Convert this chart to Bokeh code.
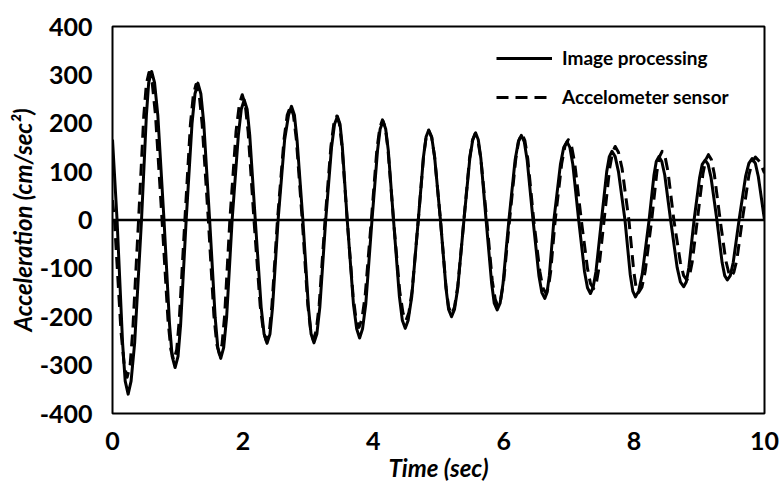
from bokeh.plotting import figure
from bokeh.models import Span, Legend, LegendItem, FixedTicker, Range1d
from bokeh.embed import file_html
from bokeh.resources import INLINE

# Image processing (solid)
solid_t = [0.0, 0.07,
           0.155, 0.195, 0.24, 0.285, 0.34, 0.445,
           0.52, 0.555, 0.60, 0.645, 0.695, 0.79,
           0.875, 0.915, 0.96, 1.005, 1.045, 1.13,
           1.22, 1.265, 1.31, 1.355, 1.40, 1.49,
           1.575, 1.615, 1.66, 1.705, 1.75, 1.835,
           1.93, 1.975, 2.02, 2.065, 2.105, 2.19,
           2.28, 2.325, 2.37, 2.415, 2.455, 2.54,
           2.64, 2.70, 2.745, 2.79, 2.83, 2.92,
           3.005, 3.045, 3.09, 3.135, 3.18, 3.27,
           3.36, 3.405, 3.45, 3.49, 3.525, 3.60,
           3.695, 3.745, 3.79, 3.835, 3.885, 3.98,
           4.065, 4.105, 4.15, 4.19, 4.23, 4.31,
           4.40, 4.445, 4.49, 4.535, 4.59, 4.69,
           4.77, 4.81, 4.85, 4.895, 4.94, 5.03,
           5.115, 5.155, 5.20, 5.245, 5.295, 5.39,
           5.48, 5.525, 5.57, 5.61, 5.65, 5.73,
           5.815, 5.855, 5.90, 5.945, 5.99, 6.08,
           6.175, 6.225, 6.27, 6.315, 6.36, 6.45,
           6.54, 6.585, 6.63, 6.665, 6.70, 6.77,
           6.87, 6.92, 6.97, 7.015, 7.06, 7.15,
           7.24, 7.285, 7.33, 7.37, 7.415, 7.50,
           7.58, 7.62, 7.66, 7.71, 7.76, 7.86,
           7.94, 7.98, 8.02, 8.07, 8.125, 8.23,
           8.305, 8.34, 8.38, 8.425, 8.47, 8.56,
           8.66, 8.71, 8.76, 8.80, 8.84, 8.92,
           9.005, 9.045, 9.09, 9.135, 9.18, 9.27,
           9.35, 9.39, 9.43, 9.475, 9.52, 9.61,
           9.71, 9.76, 9.81, 9.86, 9.905, 10.0]
solid_a = [166, 0,
           -255, -333, -360, -333, -254, 0,
           217, 284, 307, 284, 217, 0,
           -216, -282, -305, -282, -216, 0,
           200, 261, 283, 261, 200, 0,
           -202, -264, -286, -264, -202, 0,
           175, 229, 248, 229, 175, 0,
           -180, -236, -255, -236, -180, 0,
           166, 217, 235, 217, 166, 0,
           -180, -235, -254, -235, -180, 0,
           151, 198, 214, 198, 151, 0,
           -173, -225, -244, -225, -173, 0,
           144, 188, 204, 188, 144, 0,
           -158, -207, -224, -207, -158, 0,
           131, 172, 186, 172, 131, 0,
           -141, -185, -200, -185, -141, 0,
           127, 166, 180, 166, 127, 0,
           -131, -172, -186, -172, -131, 0,
           124, 162, 175, 162, 124, 0,
           -115, -150, -162, -150, -115, 0,
           115, 150, 162, 150, 115, 0,
           -107, -140, -152, -140, -107, 0,
           100, 131, 142, 131, 100, 0,
           -112, -147, -159, -147, -112, 0,
           93, 121, 131, 121, 93, 0,
           -98, -128, -138, -128, -98, 0,
           88, 115, 124, 115, 88, 0,
           -88, -115, -124, -115, -88, 0,
           90, 117, 127, 117, 90, 0]

# Accelerometer sensor (dashed)
dash_t = [0.0, 0.03,
          0.13, 0.18, 0.225, 0.27, 0.31, 0.40,
          0.48, 0.52, 0.56, 0.61, 0.66, 0.76,
          0.85, 0.895, 0.94, 0.985, 1.025, 1.11,
          1.195, 1.24, 1.28, 1.33, 1.375, 1.47,
          1.555, 1.60, 1.64, 1.68, 1.72, 1.80,
          1.895, 1.945, 1.99, 2.035, 2.08, 2.17,
          2.265, 2.315, 2.36, 2.405, 2.445, 2.53,
          2.63, 2.68, 2.73, 2.775, 2.82, 2.91,
          2.995, 3.04, 3.08, 3.125, 3.17, 3.26,
          3.35, 3.395, 3.44, 3.48, 3.52, 3.60,
          3.69, 3.735, 3.78, 3.825, 3.875, 3.97,
          4.055, 4.10, 4.14, 4.185, 4.225, 4.31,
          4.405, 4.455, 4.50, 4.545, 4.595, 4.69,
          4.77, 4.81, 4.85, 4.895, 4.94, 5.03,
          5.115, 5.155, 5.20, 5.245, 5.295, 5.39,
          5.475, 5.52, 5.56, 5.605, 5.65, 5.74,
          5.825, 5.87, 5.91, 5.955, 6.00, 6.09,
          6.185, 6.23, 6.28, 6.325, 6.37, 6.46,
          6.555, 6.60, 6.65, 6.685, 6.72, 6.79,
          6.89, 6.94, 6.99, 7.04, 7.09, 7.19,
          7.285, 7.33, 7.38, 7.42, 7.46, 7.54,
          7.625, 7.67, 7.71, 7.76, 7.815, 7.92,
          7.995, 8.03, 8.07, 8.12, 8.17, 8.27,
          8.35, 8.39, 8.43, 8.475, 8.52, 8.61,
          8.71, 8.76, 8.81, 8.85, 8.89, 8.97,
          9.055, 9.10, 9.14, 9.185, 9.23, 9.32,
          9.405, 9.45, 9.49, 9.53, 9.575, 9.66,
          9.76, 9.81, 9.86, 9.93, 10.0]
dash_a = [41, 0,
          -230, -300, -325, -300, -230, 0,
          216, 282, 305, 282, 216, 0,
          -205, -268, -290, -268, -205, 0,
          198, 259, 280, 259, 198, 0,
          -197, -257, -278, -257, -197, 0,
          183, 239, 259, 239, 183, 0,
          -177, -231, -250, -231, -177, 0,
          166, 217, 235, 217, 166, 0,
          -175, -229, -248, -229, -175, 0,
          152, 199, 215, 199, 152, 0,
          -157, -205, -222, -205, -157, 0,
          146, 191, 207, 191, 146, 0,
          -147, -192, -208, -192, -147, 0,
          131, 171, 185, 171, 131, 0,
          -138, -180, -195, -180, -138, 0,
          126, 164, 178, 164, 126, 0,
          -126, -164, -178, -164, -126, 0,
          126, 164, 178, 164, 126, 0,
          -107, -140, -152, -140, -107, 0,
          117, 153, 166, 153, 117, 0,
          -100, -131, -142, -131, -100, 0,
          107, 140, 152, 140, 107, 0,
          -106, -139, -150, -139, -106, 0,
          100, 131, 142, 131, 100, 0,
          -88, -115, -124, -115, -88, 0,
          95, 125, 135, 125, 95, 0,
          -83, -108, -117, -108, -83, 0,
          92, 120, 130, 120, 97]

x_ticks = [0, 2, 4, 6, 8, 10]
y_ticks = [-400, -300, -200, -100, 0, 100, 200, 300, 400]
series_names = ["Image processing", "Accelometer sensor"]

FONT = "Lato"

p = figure(width=779, height=490, output_backend="svg", toolbar_location=None,
           x_range=Range1d(0, 10), y_range=Range1d(-400, 400),
           min_border_left=112, min_border_right=15, min_border_top=26,
           min_border_bottom=77)

p.xgrid.visible = False
p.ygrid.visible = False
p.outline_line_color = "black"
p.outline_line_width = 2
p.background_fill_color = "white"
p.border_fill_color = "white"

zero = Span(location=0, dimension="width", line_color="black", line_width=2.5)
p.add_layout(zero)

r1 = p.line(solid_t, solid_a, line_color="black", line_width=3, line_join="round")
r2 = p.line(dash_t, dash_a, line_color="black", line_width=3, line_dash="12 7",
            line_join="round")

for ax in (p.xaxis[0], p.yaxis[0]):
    ax.axis_line_color = None
    ax.major_tick_line_color = None
    ax.minor_tick_line_color = None
    ax.major_label_text_font = FONT
    ax.major_label_text_font_style = "bold"
    ax.major_label_text_font_size = "25px"
    ax.major_label_text_color = "black"
    ax.axis_label_text_font = FONT
    ax.axis_label_text_font_style = "bold italic"
    ax.axis_label_text_font_size = "24px"
    ax.axis_label_text_color = "black"

p.xaxis.ticker = FixedTicker(ticks=x_ticks)
p.yaxis.ticker = FixedTicker(ticks=y_ticks)
p.yaxis.major_label_overrides = {t: str(t) for t in y_ticks}
p.xaxis.major_label_overrides = {t: str(t) for t in x_ticks}
p.xaxis.axis_label = "Time (sec)"
p.yaxis.axis_label = "Acceleration (cm/sec²)"
p.xaxis.major_label_standoff = 12
p.xaxis.axis_label_standoff = 0
p.yaxis.major_label_standoff = 14
p.yaxis.axis_label_standoff = 0

legend = Legend(items=[LegendItem(label=series_names[0], renderers=[r1]),
                       LegendItem(label=series_names[1], renderers=[r2])],
                location=(384, 305), padding=0, margin=0, spacing=16,
                glyph_width=56, glyph_height=20, label_height=20,
                label_standoff=10,
                label_text_font=FONT, label_text_font_style="bold",
                label_text_font_size="19px", label_text_color="black",
                border_line_color=None, background_fill_alpha=0)
p.add_layout(legend)

open("out.html", "w").write(file_html(p, INLINE))
